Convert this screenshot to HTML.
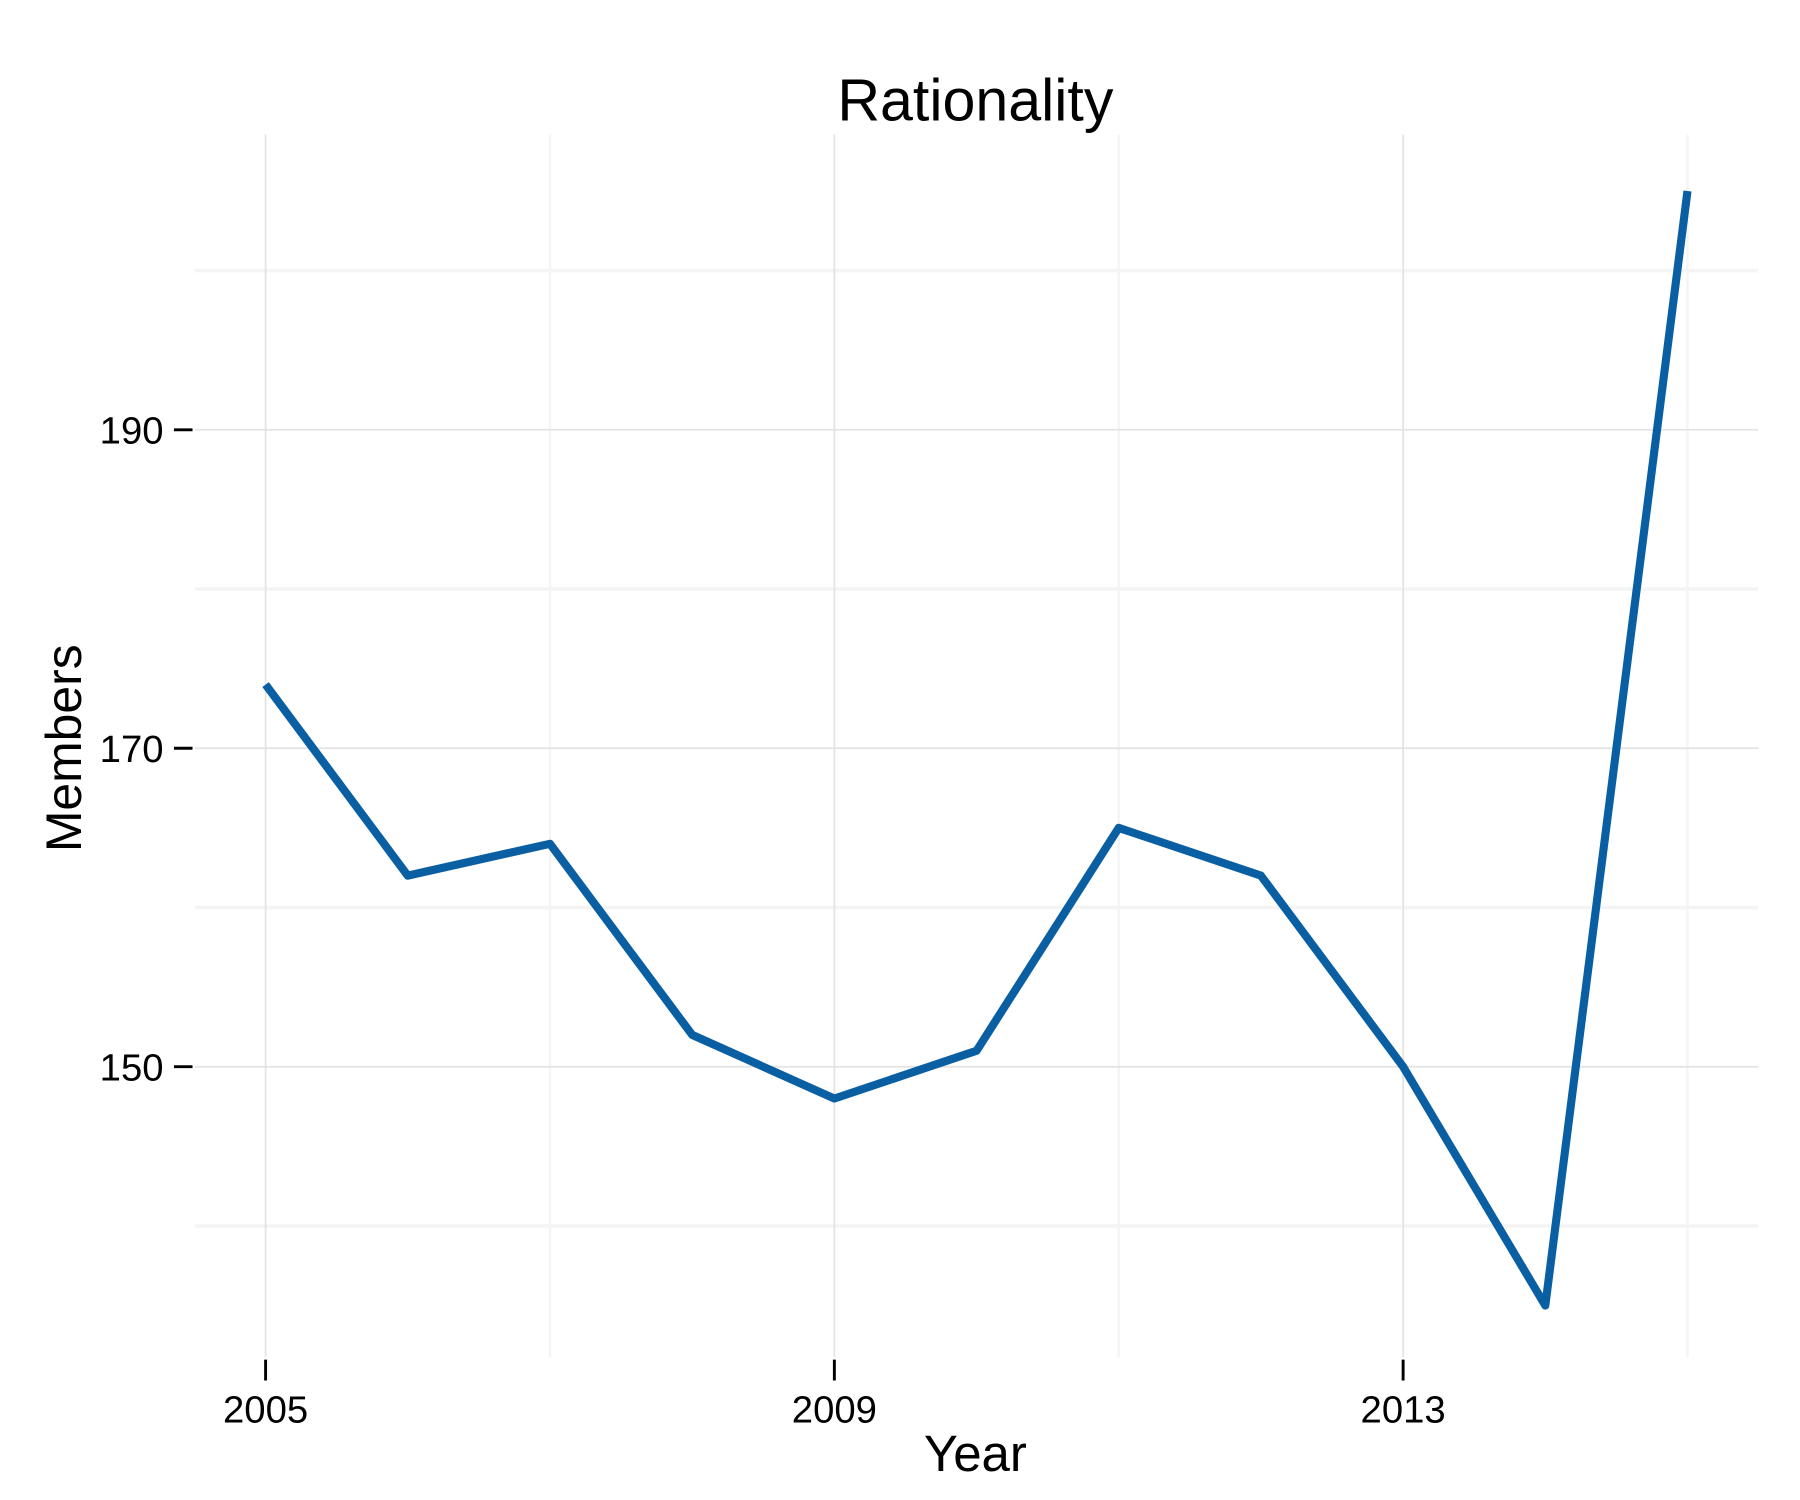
<!DOCTYPE html>
<html><head><meta charset="utf-8"><style>
html,body{margin:0;padding:0;background:#fff}
svg{display:block}
text{font-family:"Liberation Sans",Arial,sans-serif;fill:#000}
</style></head><body>
<svg id="chart" width="1800" height="1500" viewBox="0 0 1552 1293" preserveAspectRatio="none" xmlns="http://www.w3.org/2000/svg">
<g id="grid"></g>
<g id="axes"></g>
<path id="line" fill="none" stroke="#0a5fa3" stroke-width="7" stroke-linejoin="round"/>
<text x="841" y="104" font-size="51" text-anchor="middle">Rationality</text>
<text x="841" y="1268" font-size="44" text-anchor="middle">Year</text>
<text transform="translate(70,645) rotate(-90)" font-size="43" text-anchor="middle">Members</text>
</svg>
<script>
const years=[2005,2006,2007,2008,2009,2010,2011,2012,2013,2014,2015];
const members=[174,162,164,152,148,151,165,162,150,135,205];
const xTicks=[2005,2009,2013];
const yTicks=[150,170,190];
const xMinor=[2007,2011,2015];
const yMinor=[140,160,180,200];
const NS="http://www.w3.org/2000/svg";
const X=v=>229+(v-2005)*122.6;
const Y=v=>645-(v-170)*13.725;
const L=168,R=1516,T=116,B=1170;
const grid=document.getElementById('grid'),axes=document.getElementById('axes');
function mk(tag,attrs,parent){const e=document.createElementNS(NS,tag);for(const k in attrs)e.setAttribute(k,attrs[k]);parent.appendChild(e);return e;}
yMinor.forEach(v=>{const e=mk('line',{x1:L,x2:R,y1:Y(v),y2:Y(v),stroke:'#f4f4f4','stroke-width':3},grid);

});
xMinor.forEach(v=>{const e=mk('line',{x1:X(v),x2:X(v),y1:T,y2:B,stroke:'#f4f4f4','stroke-width':2},grid);

});
yTicks.forEach(v=>{const e=mk('line',{x1:L,x2:R,y1:Y(v),y2:Y(v),stroke:'#e3e3e3','stroke-width':1.5},grid);


const t=mk('line',{x1:150,x2:166,y1:Y(v),y2:Y(v),stroke:'#000','stroke-width':2.5},axes);


const l=mk('text',{x:141,y:Y(v)+12,'font-size':33,'text-anchor':'end'},axes);l.textContent=v;

});
xTicks.forEach(v=>{const e=mk('line',{x1:X(v),x2:X(v),y1:T,y2:B,stroke:'#e3e3e3','stroke-width':1.5},grid);


const t=mk('line',{x1:X(v),x2:X(v),y1:1172,y2:1190,stroke:'#000','stroke-width':2.5},axes);


const l=mk('text',{x:X(v),y:1226,'font-size':33,'text-anchor':'middle'},axes);l.textContent=v;

});
document.getElementById('line').setAttribute('d',years.map((y,i)=>(i?'L':'M')+X(y)+','+Y(members[i])).join(''));
</script>
</body></html>
